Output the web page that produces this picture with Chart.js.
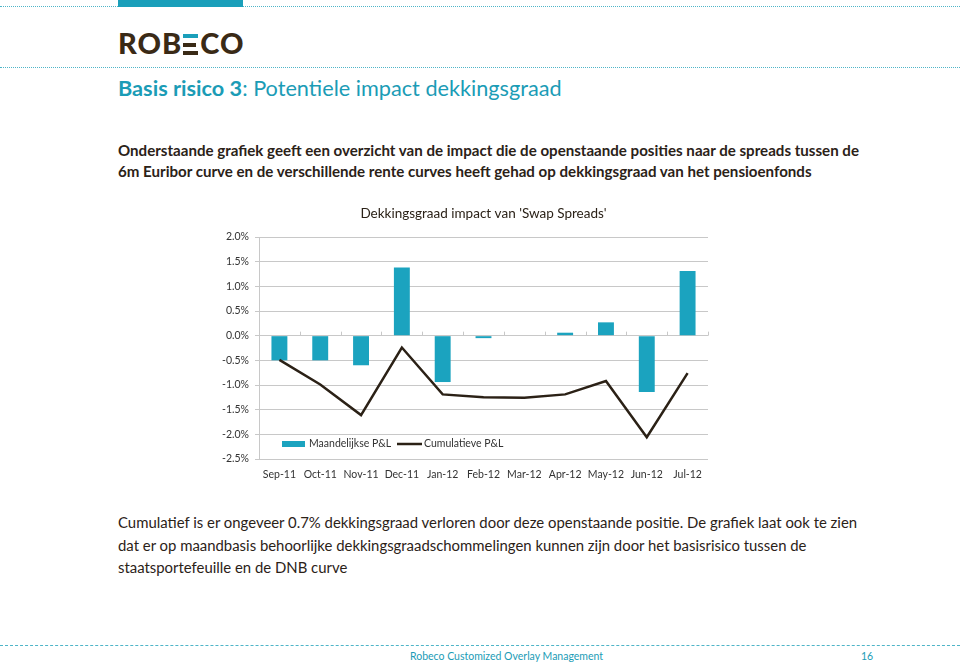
<!DOCTYPE html>
<html lang="nl">
  <head>
    <meta charset="UTF-8" />
    <title>Basis risico 3</title>
    <script src="https://cdn.jsdelivr.net/npm/chart.js"></script>
    <style>
      html, body { margin: 0; padding: 0; background: #fff; }
      body { width: 960px; height: 662px; position: relative; overflow: hidden; font-family: Lato, "Open Sans", sans-serif; color: #2b2218; }
      .dots { position: absolute; left: 0; width: 960px; border-top: 1px dotted #4fb5c8; }
      .topbar { position: absolute; left: 118px; top: 0; width: 125px; height: 7px; background: #1a9fba; }
      .logo { position: absolute; left: 118px; top: 25px; font-size: 29px; font-weight: 900; color: #3a2a16; letter-spacing: 1px; white-space: nowrap; }
      .logo .e { display: inline-block; width: 15px; height: 21px; position: relative; margin: 0 2px 0 1px; vertical-align: -1px; }
      .logo .e i { position: absolute; left: 0; width: 15px; height: 4px; background: #3a2a16; }
      .title { position: absolute; left: 118px; top: 75px; font-size: 21.7px; color: #1b9cb6; white-space: nowrap; }
      .title b { font-weight: 700; }
      .intro { position: absolute; left: 118px; top: 140px; font-size: 15.1px; font-weight: 700; line-height: 21px; white-space: nowrap; }
      .note { position: absolute; left: 118px; top: 511px; font-size: 14.9px; line-height: 22.5px; white-space: nowrap; }
      .foot { position: absolute; top: 650px; font-size: 10.5px; color: #1b9cb6; }
      #chartBox { position: absolute; left: 200px; top: 195px; width: 520px; height: 300px; }
    </style>
  </head>
  <body>
    <div class="dots" style="top:6px"></div>
    <div class="topbar"></div>
    <div class="logo">ROB<span class="e"><i style="top:0;background:#1a9fba"></i><i style="top:8.5px;width:13px"></i><i style="top:17px"></i></span>CO</div>
    <div class="dots" style="top:67px"></div>

    <div class="title"><b>Basis risico 3</b>: Potentiele impact dekkingsgraad</div>
    <div class="intro">
      Onderstaande grafiek geeft een overzicht van de impact die de openstaande posities naar de spreads tussen de<br />
      6m Euribor curve en de verschillende rente curves heeft gehad op dekkingsgraad van het pensioenfonds
    </div>

    <div id="chartBox"><canvas id="impactChart"></canvas></div>

    <div class="note">
      Cumulatief is er ongeveer 0.7% dekkingsgraad verloren door deze openstaande positie. De grafiek laat ook te zien<br />
      dat er op maandbasis behoorlijke dekkingsgraadschommelingen kunnen zijn door het basisrisico tussen de<br />
      staatsportefeuille en de DNB curve
    </div>

    <div class="dots" style="top:645px;border-top:1px dashed #4fb5c8"></div>
    <div class="foot" style="left:410px">Robeco Customized Overlay Management</div>
    <div class="foot" style="left:861px">16</div>

    <script>
      // data
      const months = ['Sep-11', 'Oct-11', 'Nov-11', 'Dec-11', 'Jan-12', 'Feb-12', 'Mar-12', 'Apr-12', 'May-12', 'Jun-12', 'Jul-12'];
      const monthlyPL = [-0.50, -0.50, -0.60, 1.38, -0.94, -0.05, -0.01, 0.06, 0.27, -1.14, 1.31];
      const cumulativePL = [-0.49, -0.99, -1.61, -0.24, -1.19, -1.25, -1.26, -1.19, -0.92, -2.06, -0.76];
      const yMin = -2.5, yMax = 2.0, yStep = 0.5;

      const teal = '#1ba3bf';
      const dark = '#2b2116';
      const gridColor = '#c8c8c8';
      const fontFamily = 'Lato, "Open Sans", sans-serif';

      // title, legend in the plot and little tick marks on the zero line
      const extras = {
        id: 'extras',
        afterDraw(chart) {
          const ctx = chart.ctx;
          const area = chart.chartArea;
          const x = chart.scales.x, y = chart.scales.y;
          ctx.save();

          ctx.fillStyle = '#2b2218';
          ctx.font = '13.5px ' + fontFamily;
          ctx.textAlign = 'center';
          ctx.textBaseline = 'middle';
          ctx.fillText("Dekkingsgraad impact van 'Swap Spreads'", (area.left + area.right) / 2, 19);

          const y0 = y.getPixelForValue(0);
          ctx.strokeStyle = gridColor;
          ctx.lineWidth = 1;
          for (let i = 0; i <= months.length; i++) {
            const px = Math.round(x.getPixelForValue(i - 0.5)) + 0.5;
            ctx.beginPath();
            ctx.moveTo(px, y0);
            ctx.lineTo(px, y0 - 4);
            ctx.stroke();
          }

          const ly = 249;
          ctx.textAlign = 'left';
          ctx.font = '10.5px ' + fontFamily;
          ctx.fillStyle = teal;
          ctx.fillRect(82, ly - 3, 23, 6);
          ctx.fillStyle = '#333';
          ctx.fillText(chart.data.datasets[0].label, 109, ly);
          ctx.strokeStyle = dark;
          ctx.lineWidth = 2.5;
          ctx.beginPath();
          ctx.moveTo(197, ly);
          ctx.lineTo(222, ly);
          ctx.stroke();
          ctx.fillText(chart.data.datasets[1].label, 224, ly);
          ctx.restore();
        }
      };

      new Chart(document.getElementById('impactChart'), {
        data: {
          labels: months,
          datasets: [
            {
              type: 'bar',
              label: 'Maandelijkse P&L',
              data: monthlyPL,
              backgroundColor: teal,
              barPercentage: 0.39,
              categoryPercentage: 1,
              order: 2
            },
            {
              type: 'line',
              label: 'Cumulatieve P&L',
              data: cumulativePL,
              borderColor: dark,
              borderWidth: 2.5,
              pointRadius: 0,
              tension: 0,
              order: 1
            }
          ]
        },
        options: {
          responsive: true,
          maintainAspectRatio: false,
          animation: false,
          layout: { padding: { top: 42, right: 12, left: 0, bottom: 0 } },
          plugins: {
            legend: { display: false },
            tooltip: { enabled: false }
          },
          scales: {
            x: {
              grid: { display: false, drawTicks: false },
              border: { display: false },
              ticks: {
                color: '#333',
                font: { family: fontFamily, size: 10.5 },
                padding: 9,
                maxRotation: 0,
                minRotation: 0,
                autoSkip: false
              },
              afterFit(scale) { scale.height = 36; }
            },
            y: {
              min: yMin,
              max: yMax,
              ticks: {
                stepSize: yStep,
                color: '#333',
                font: { family: fontFamily, size: 10.5 },
                padding: 6,
                callback: v => v.toFixed(1) + '%'
              },
              grid: { color: gridColor, tickLength: 4 },
              border: { color: gridColor },
              afterFit(scale) { scale.width = 59; }
            }
          }
        },
        plugins: [extras]
      });
    </script>
  </body>
</html>
